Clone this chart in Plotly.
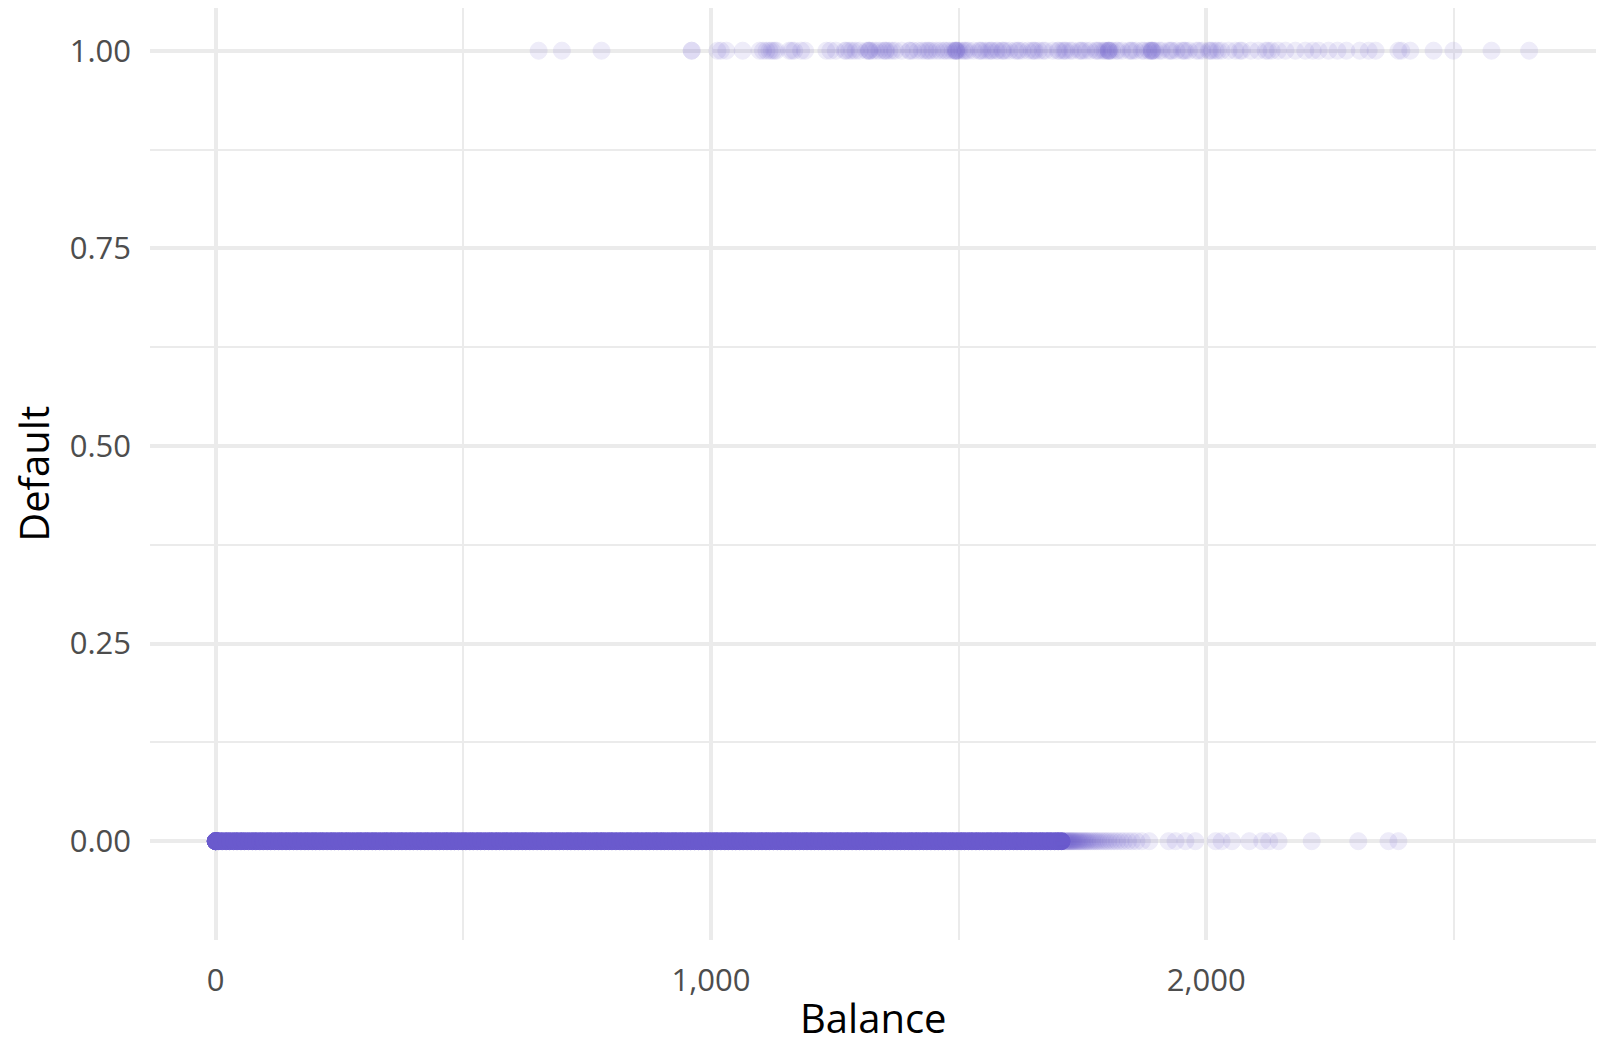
import plotly.graph_objects as go

# Balance values of customers who defaulted (Default = 1)
default_yes_balance = [652, 699, 779, 961, 961, 1013, 1020, 1031, 1064, 1098, 1105, 1112, 1118, 1123,
                       1128, 1132, 1158, 1163, 1168, 1182, 1190, 1233, 1241, 1252, 1273, 1279, 1285,
                       1292, 1300, 1314, 1320, 1320, 1326, 1333, 1348, 1354, 1360, 1366, 1372, 1385,
                       1400, 1408, 1418, 1426, 1433, 1441, 1447, 1462, 1475, 1481, 1488, 1495, 1495,
                       1495, 1501, 1507, 1515, 1530, 1541, 1548, 1555, 1561, 1568, 1576, 1588, 1595,
                       1603, 1614, 1622, 1629, 1640, 1648, 1655, 1662, 1675, 1690, 1703, 1710, 1717,
                       1730, 1743, 1750, 1757, 1765, 1777, 1784, 1791, 1803, 1803, 1803, 1810, 1818,
                       1830, 1844, 1851, 1858, 1870, 1883, 1890, 1890, 1890, 1897, 1910, 1924, 1931,
                       1940, 1951, 1958, 1965, 1980, 1992, 2005, 2012, 2019, 2031, 2045, 2059, 2072,
                       2090, 2105, 2120, 2132, 2145, 2160, 2180, 2200, 2215, 2227, 2247, 2265, 2283,
                       2310, 2328, 2342, 2388, 2394, 2412, 2459, 2499, 2576, 2652,
                       1270, 1318, 1352, 1402, 1438, 1470, 1492, 1498, 1512, 1544, 1565, 1590,
                       1619, 1652, 1700, 1714, 1747, 1780, 1799, 1806, 1848, 1886, 1893, 1928,
                       1955, 2008, 2024, 2068, 2125, 1340, 1455, 1520, 1580, 1670, 1725, 1795,
                       1822, 1875, 1905, 1985]

# Balance values of non-defaulters (Default = 0): the saturated core of the band
default_no_core_balance = [0, 0, 0, 0, 6, 13, 21, 28, 36, 43, 51, 58, 66, 74, 81, 89, 96, 104, 111,
                           119, 127, 134, 142, 149, 157, 164, 172, 180, 187, 195, 202, 210, 217, 225,
                           233, 240, 248, 255, 263, 270, 278, 286, 293, 301, 308, 316, 323, 331, 339,
                           346, 354, 361, 369, 376, 384, 392, 399, 407, 414, 422, 429, 437, 445, 452,
                           460, 467, 475, 482, 490, 498, 505, 513, 520, 528, 535, 543, 551, 558, 566,
                           573, 581, 588, 596, 604, 611, 619, 626, 634, 641, 649, 657, 664, 672, 679,
                           687, 694, 702, 710, 717, 725, 732, 740, 747, 755, 763, 770, 778, 785, 793,
                           800, 808, 816, 823, 831, 838, 846, 853, 861, 869, 876, 884, 891, 899, 906,
                           914, 922, 929, 937, 944, 952, 959, 967, 975, 982, 990, 997, 1005, 1012,
                           1020, 1028, 1035, 1043, 1050, 1058, 1065, 1073, 1081, 1088, 1096, 1103,
                           1111, 1118, 1126, 1134, 1141, 1149, 1156, 1164, 1171, 1179, 1187, 1194,
                           1202, 1209, 1217, 1224, 1232, 1240, 1247, 1255, 1262, 1270, 1277, 1285,
                           1293, 1300, 1308, 1315, 1323, 1330, 1338, 1346, 1353, 1361, 1368, 1376,
                           1383, 1391, 1399, 1406, 1414, 1421, 1429, 1436, 1444, 1452, 1459, 1467,
                           1474, 1482, 1489, 1497, 1505, 1512, 1520, 1527, 1535, 1542, 1550, 1558,
                           1565, 1573, 1580, 1588, 1595, 1603, 1611, 1618, 1626, 1633, 1641, 1648,
                           1656, 1664, 1671, 1679, 1686, 1694, 1701, 1708]

# Balance values of non-defaulters in the fading tail of the band
default_no_tail_balance = [1712, 1714, 1716, 1718, 1720, 1722, 1724, 1726, 1728, 1730, 1732, 1734,
                           1737, 1739, 1742, 1744, 1747, 1750, 1753, 1756, 1759, 1762, 1766, 1770,
                           1774, 1778, 1782, 1787, 1792, 1797, 1802, 1808, 1814, 1820, 1827, 1834,
                           1842, 1850, 1859, 1870, 1885, 1924, 1938, 1958, 1978, 2019,
                           2031, 2052, 2087, 2113, 2127, 2146, 2213, 2307, 2368, 2388]

COLOR = "#6A5ACD"
FONT = "Open Sans, Fira Sans, sans-serif"

fig = go.Figure()
fig.add_trace(go.Scatter(
    x=default_no_core_balance, y=[0] * len(default_no_core_balance),
    mode="markers", marker=dict(size=17, color=COLOR, line=dict(width=1, color=COLOR)),
    showlegend=False, hoverinfo="skip"))
fig.add_trace(go.Scatter(
    x=default_no_tail_balance, y=[0] * len(default_no_tail_balance),
    mode="markers", marker=dict(size=17, color=COLOR, opacity=0.11, line=dict(width=1, color=COLOR)),
    showlegend=False))
fig.add_trace(go.Scatter(
    x=default_yes_balance, y=[1] * len(default_yes_balance),
    mode="markers", marker=dict(size=17, color=COLOR, opacity=0.11, line=dict(width=1, color=COLOR)),
    showlegend=False))

fig.update_layout(
    width=1604, height=1045,
    margin=dict(l=150, r=8, t=8, b=105),
    plot_bgcolor="white", paper_bgcolor="white",
    font=dict(family=FONT, color="#4d4d4d", size=31),
    annotations=[
        dict(text="Balance", xref="paper", yref="paper", x=0.5, y=-0.083,
             xanchor="center", yanchor="middle", showarrow=False, borderpad=0,
             font=dict(family=FONT, size=40, color="black")),
        dict(text="Default", xref="paper", yref="paper", x=-0.081, y=0.5,
             xanchor="center", yanchor="middle", showarrow=False, textangle=-90,
             font=dict(family=FONT, size=40, color="black")),
    ],
)
fig.update_xaxes(
    range=[-132.7, 2787], tickmode="linear", tick0=0, dtick=1000, tickformat=",d",
    showgrid=True, gridcolor="#ebebeb", gridwidth=3.5, zeroline=False, showline=False,
    ticks="", ticklabelstandoff=19, automargin=False,
    tickfont=dict(family=FONT, size=31, color="#4d4d4d"),
    minor=dict(dtick=500, tick0=0, showgrid=True, gridcolor="#ebebeb", gridwidth=1.8),
)
fig.update_yaxes(
    range=[-0.125, 1.054], tickmode="linear", tick0=0, dtick=0.25, tickformat=".2f",
    showgrid=True, gridcolor="#ebebeb", gridwidth=3.5, zeroline=False, showline=False,
    ticks="", ticklabelstandoff=18, automargin=False,
    tickfont=dict(family=FONT, size=31, color="#4d4d4d"),
    minor=dict(dtick=0.125, tick0=0, showgrid=True, gridcolor="#ebebeb", gridwidth=1.8),
)

fig.write_html("out.html", config={"displayModeBar": False},
               post_script="document.body.style.margin='0';")
